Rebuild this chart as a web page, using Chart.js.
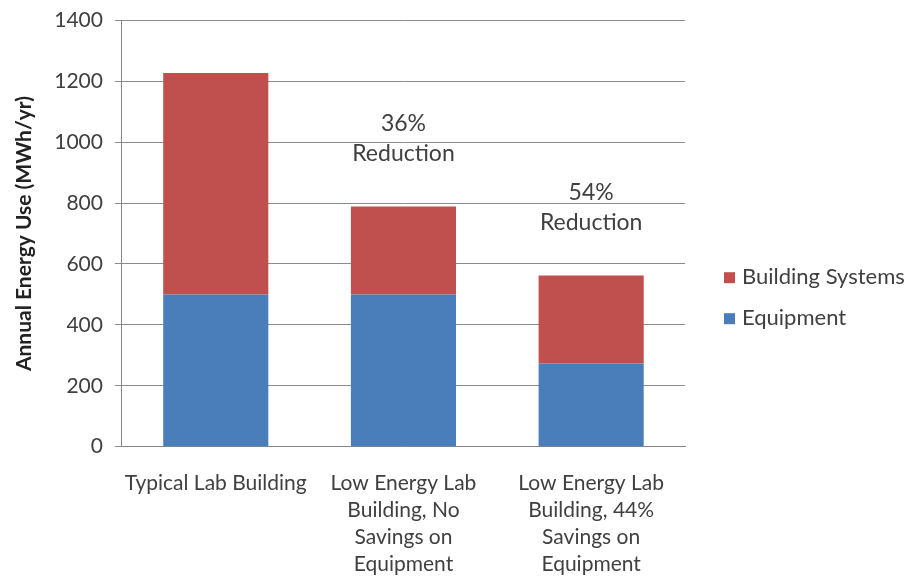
<!DOCTYPE html>
<html>
<head>
<meta charset="utf-8">
<script src="https://cdn.jsdelivr.net/npm/chart.js"></script>
<style>
  html, body { margin: 0; padding: 0; background: #ffffff; }
  #wrap { width: 906px; height: 578px; }
</style>
</head>
<body>
<div id="wrap"><canvas id="energyChart" width="906" height="578"></canvas></div>
<script>
// Chart values
const categories = [
  ["Typical Lab Building"],
  ["Low Energy Lab", "Building, No", "Savings on", "Equipment"],
  ["Low Energy Lab", "Building, 44%", "Savings on", "Equipment"],
];
const equipment = [500, 500, 273];
const buildingSystems = [727, 289, 289];
const reductionPct = ["", "36%", "54%"];
const yTicks = [0, 200, 400, 600, 800, 1000, 1200, 1400];

const FONT = "Lato, 'Open Sans', sans-serif";
const TEXT = "#404040";

// Draw the "xx% Reduction" notes above the bars
const reductionNotes = {
  id: "reductionNotes",
  afterDatasetsDraw(chart) {
    const ctx = chart.ctx;
    const x = chart.scales.x;
    const y = chart.scales.y;
    ctx.save();
    ctx.fillStyle = TEXT;
    ctx.font = "23px " + FONT;
    ctx.textAlign = "center";
    ctx.textBaseline = "middle";
    reductionPct.forEach((pct, i) => {
      if (!pct) return;
      const top = y.getPixelForValue(equipment[i] + buildingSystems[i]);
      const cx = x.getPixelForValue(i);
      ctx.fillText(pct, cx, top - 83);
      ctx.fillText("Reduction", cx, top - 53);
    });
    ctx.restore();
  },
};

// Legend on the right, Building Systems listed first
const sideLegend = {
  id: "sideLegend",
  afterDraw(chart) {
    const ctx = chart.ctx;
    const area = chart.chartArea;
    const items = chart.data.datasets.slice().reverse();
    const left = area.right + 39;
    const mid = (area.top + chart.height) / 2;
    ctx.save();
    ctx.font = "22px " + FONT;
    ctx.textBaseline = "middle";
    ctx.textAlign = "left";
    items.forEach((ds, k) => {
      const cy = mid - 22 + k * 41;
      ctx.fillStyle = ds.backgroundColor;
      ctx.fillRect(left, cy - 5, 11, 11);
      ctx.fillStyle = TEXT;
      ctx.fillText(ds.label, left + 18, cy);
    });
    ctx.restore();
  },
};

const ctx = document.getElementById("energyChart");

new Chart(ctx.getContext("2d"), {
  type: "bar",
  data: {
    labels: categories,
    datasets: [
      {
        label: "Equipment",
        data: equipment,
        backgroundColor: "#4a7ebb",
        barPercentage: 0.56,
        categoryPercentage: 1,
      },
      {
        label: "Building Systems",
        data: buildingSystems,
        backgroundColor: "#c0504d",
        barPercentage: 0.56,
        categoryPercentage: 1,
      },
    ],
  },
  options: {
    responsive: false,
    animation: false,
    layout: { padding: { top: 12, right: 221, left: 12, bottom: 0 } },
    scales: {
      x: {
        stacked: true,
        grid: { display: false, drawTicks: true, tickLength: 23 },
        border: { display: true, color: "#868686", width: 1 },
        ticks: {
          color: TEXT,
          font: { family: FONT, size: 21, lineHeight: 1.29 },
          maxRotation: 0,
          autoSkip: false,
          padding: 0,
        },
      },
      y: {
        stacked: true,
        min: 0,
        max: 1400,
        afterBuildTicks(axis) {
          axis.ticks = yTicks.map((v) => ({ value: v }));
        },
        grid: { color: "#8c8c8c", lineWidth: 1, tickLength: 7 },
        border: { display: true, color: "#868686", width: 1 },
        ticks: {
          color: TEXT,
          font: { family: FONT, size: 21, lineHeight: 0.8 },
          padding: 12,
          callback: (v) => String(v),
        },
        title: {
          display: true,
          text: "Annual Energy Use (MWh/yr)",
          color: "#222",
          font: { family: FONT, size: 21, weight: "bold" },
          padding: { top: 0, bottom: 5 },
        },
      },
    },
    plugins: {
      legend: { display: false },
      tooltip: { enabled: false },
    },
  },
  plugins: [reductionNotes, sideLegend],
});
</script>
</body>
</html>
